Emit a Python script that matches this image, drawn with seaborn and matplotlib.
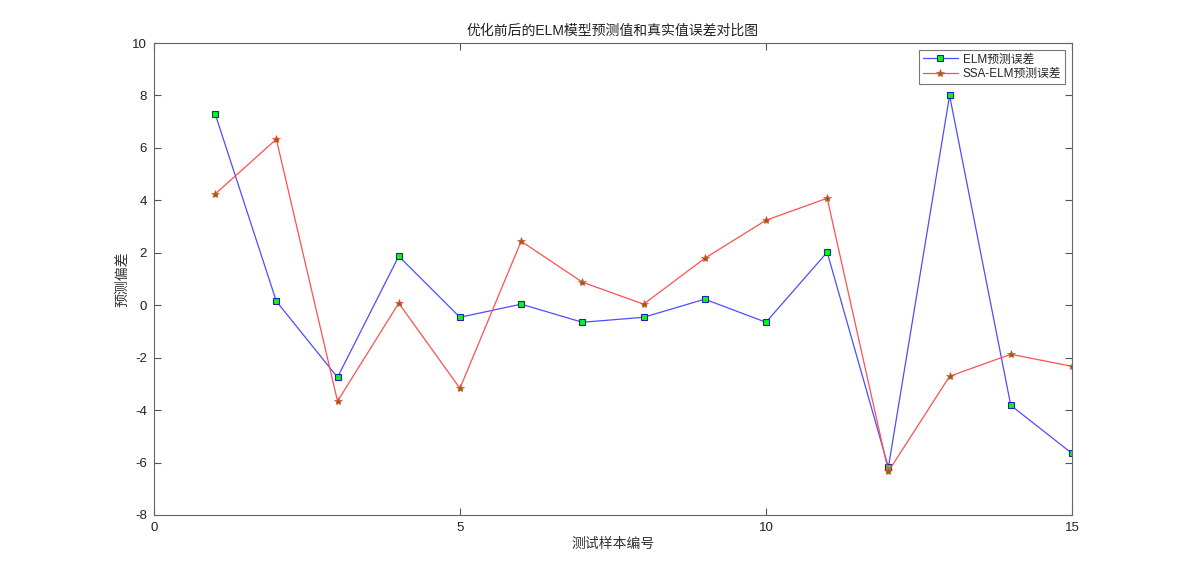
import numpy as np
import pandas as pd
import matplotlib
matplotlib.use('Agg')
import matplotlib.pyplot as plt
import seaborn as sns

# Data
samples = list(range(1, 16))
elm_err = [7.30, 0.15, -2.75, 1.87, -0.46, 0.04, -0.65, -0.46, 0.23, -0.65, 2.02, -6.18, 8.00, -3.82, -5.65]
ssa_elm_err = [4.24, 6.33, -3.66, 0.08, -3.17, 2.44, 0.88, 0.04, 1.79, 3.24, 4.08, -6.34, -2.71, -1.87, -2.33]

x_ticks = [0, 5, 10, 15]
y_ticks = list(range(-8, 11, 2))

df = pd.DataFrame({'sample': samples, 'ELM': elm_err, 'SSA-ELM': ssa_elm_err})

sns.set_style('white')
# Latin glyphs in an Arial-like face, CJK falls back to Noto
plt.rcParams['font.family'] = ['Liberation Sans', 'Noto Sans CJK SC']
plt.rcParams['axes.unicode_minus'] = False

fig = plt.figure(figsize=(11.84, 5.78), dpi=100)
ax = fig.add_axes([0.130, 0.109, 0.7754, 0.8166])

sns.lineplot(data=df, x='sample', y='ELM', ax=ax, color='#4d4dff', linewidth=0.9,
             marker='s', markersize=5, markerfacecolor='#00ff00', markeredgecolor='#2020c0',
             markeredgewidth=0.8, label='ELM预测误差')
sns.lineplot(data=df, x='sample', y='SSA-ELM', ax=ax, color='#ff5050', linewidth=0.9,
             marker='*', markersize=6, markerfacecolor='#6a7a00', markeredgecolor='#ff4040',
             markeredgewidth=0.5, label='SSA-ELM预测误差')

ax.set_xlim(0, 15)
ax.set_ylim(-8, 10)
ax.set_xticks(x_ticks)
ax.set_yticks(y_ticks)
ax.tick_params(direction='in', length=5, width=0.8, color='#555555', labelsize=9.5,
               labelcolor='#222222', top=True, right=True, bottom=True, left=True, pad=5)
for s in ax.spines.values():
    s.set_color('#666666')
    s.set_linewidth(0.8)

ax.set_title('优化前后的ELM模型预测值和真实值误差对比图', fontsize=10, color='#222222', pad=6)
ax.set_xlabel('测试样本编号', fontsize=10, color='#333333', labelpad=2)
ax.set_ylabel('预测偏差', fontsize=10, color='#333333', labelpad=2)

leg = ax.legend(loc='upper right', fontsize=8.5, frameon=True, fancybox=False,
                handlelength=3, handletextpad=0.4, borderpad=0.3, labelspacing=0.2,
                borderaxespad=0.6)
leg.get_frame().set_edgecolor('#555555')
leg.get_frame().set_linewidth(0.8)

fig.savefig('out.png', dpi=100)
